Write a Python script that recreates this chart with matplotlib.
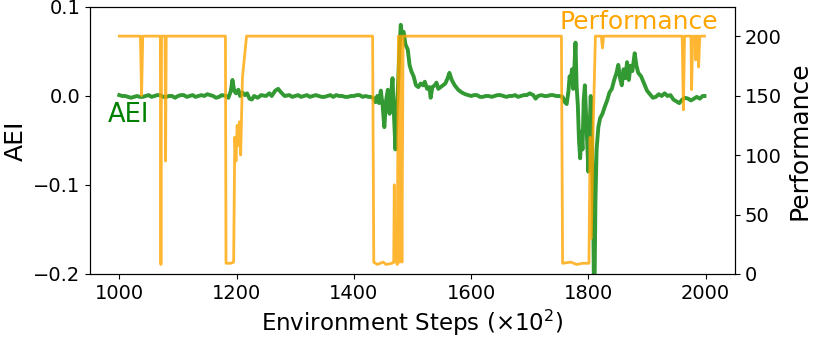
import matplotlib
matplotlib.use("Agg")
import matplotlib.pyplot as plt

# AEI series (green)
aei_steps = [1000, 1005, 1010, 1015, 1020, 1025, 1030, 1035, 1040, 1045, 1050, 1055, 1060, 1065,
             1070, 1075, 1080, 1085, 1090, 1095, 1100, 1105, 1110, 1115, 1120, 1125, 1130, 1135,
             1140, 1145, 1150, 1155, 1160, 1165, 1170, 1175, 1182, 1186, 1190, 1193, 1196, 1199,
             1203, 1206, 1210, 1214, 1218, 1222, 1226, 1230, 1236, 1242, 1250, 1256, 1260, 1266,
             1271, 1276, 1282, 1290, 1295, 1300, 1305, 1310, 1315, 1320, 1325, 1330, 1335, 1340,
             1345, 1350, 1355, 1360, 1365, 1370, 1375, 1380, 1385, 1390, 1395, 1400, 1405, 1410,
             1415, 1420, 1425, 1428, 1433, 1437, 1440, 1443, 1446, 1449, 1452, 1455, 1458, 1461,
             1464, 1466, 1469, 1471, 1473, 1475, 1477, 1480, 1482, 1485, 1488, 1492, 1495, 1498,
             1502, 1506, 1510, 1514, 1518, 1521, 1525, 1529, 1531, 1534, 1538, 1541, 1544, 1548,
             1552, 1556, 1560, 1563, 1567, 1572, 1578, 1584, 1590, 1595, 1600, 1605, 1610, 1615,
             1620, 1625, 1630, 1635, 1640, 1645, 1650, 1655, 1660, 1665, 1670, 1675, 1680, 1685,
             1690, 1695, 1700, 1706, 1710, 1714, 1720, 1725, 1730, 1735, 1740, 1745, 1750, 1756,
             1760, 1763, 1766, 1768, 1770, 1772, 1774, 1776, 1778, 1780, 1782, 1784, 1786, 1788,
             1790, 1792, 1794, 1796, 1798, 1800, 1802, 1804, 1806, 1808, 1810, 1812, 1814, 1817,
             1820, 1824, 1828, 1832, 1836, 1840, 1844, 1848, 1851, 1854, 1857, 1860, 1863, 1866,
             1869, 1872, 1875, 1879, 1882, 1885, 1890, 1895, 1900, 1905, 1910, 1915, 1920, 1925,
             1930, 1935, 1940, 1945, 1950, 1955, 1960, 1965, 1970, 1975, 1980, 1985, 1990, 1995,
             1998]
aei_values = [0.001, 0.000, 0.000, -0.001, -0.002, -0.001, 0.000, -0.001, -0.001, 0.000, 0.001,
              -0.001, 0.000, 0.001, 0.001, -0.001, -0.001, 0.000, 0.000, -0.002, 0.000, 0.001,
              0.001, -0.001, 0.000, 0.001, -0.001, 0.000, 0.001, 0.000, 0.002, 0.001, 0.000,
              -0.002, -0.001, 0.001, 0.000, -0.002, 0.005, 0.018, 0.006, 0.003, 0.007, 0.000,
              0.004, 0.001, 0.003, -0.003, -0.004, 0.000, -0.002, 0.001, 0.000, 0.003, 0.000,
              0.006, 0.008, 0.004, 0.000, 0.001, -0.001, 0.000, 0.001, -0.001, 0.000, 0.001,
              -0.001, 0.000, 0.001, 0.000, -0.001, -0.001, 0.000, 0.001, -0.001, 0.001, 0.000,
              0.000, -0.001, -0.001, 0.000, 0.000, 0.001, 0.001, -0.001, 0.000, -0.001, -0.001,
              -0.002, -0.007, 0.000, -0.008, 0.006, -0.010, -0.035, -0.005, 0.007, -0.020, 0.005,
              0.020, -0.030, -0.060, -0.020, 0.005, 0.040, 0.080, 0.070, 0.072, 0.058, 0.052,
              0.035, 0.028, 0.022, 0.012, 0.010, 0.014, 0.012, 0.016, 0.008, 0.010, -0.002,
              0.010, 0.012, 0.015, 0.008, 0.010, 0.012, 0.014, 0.020, 0.026, 0.018, 0.012, 0.007,
              0.004, 0.002, 0.001, 0.000, 0.001, 0.001, -0.001, -0.001, 0.000, 0.000, -0.001,
              0.000, 0.001, 0.001, 0.000, -0.001, 0.000, 0.000, 0.001, -0.001, 0.000, 0.001,
              0.001, 0.003, 0.001, -0.003, 0.000, 0.001, 0.000, 0.000, 0.001, 0.001, 0.000,
              0.000, -0.001, -0.007, -0.009, 0.005, 0.022, 0.015, 0.030, 0.008, 0.030, 0.060,
              0.010, -0.010, -0.050, -0.070, -0.040, -0.060, -0.005, 0.012, -0.020, -0.050,
              -0.085, -0.040, 0.000, -0.050, -0.120, -0.250, -0.120, -0.060, -0.035, -0.025,
              -0.020, -0.012, -0.005, 0.004, 0.008, 0.018, 0.026, 0.035, 0.020, 0.012, 0.030,
              0.020, 0.038, 0.018, 0.034, 0.028, 0.048, 0.034, 0.026, 0.022, 0.014, 0.006,
              0.002, -0.002, -0.001, 0.002, 0.000, 0.003, 0.000, 0.001, -0.004, -0.006, -0.008,
              -0.004, -0.002, -0.003, -0.005, -0.003, -0.001, -0.003, 0.000, 0.000]

# Performance series (orange)
perf_steps = [1000, 1036, 1038, 1040, 1070, 1071, 1072, 1078, 1079, 1080, 1181, 1182, 1190, 1195,
              1197, 1199, 1201, 1203, 1205, 1207, 1210, 1217, 1432, 1434, 1440, 1450, 1455, 1465,
              1468, 1469, 1470, 1472, 1474, 1476, 1478, 1480, 1482, 1484, 1754, 1756, 1770, 1780,
              1790, 1801, 1803, 1805, 1808, 1812, 1822, 1824, 1826, 1960, 1962, 1964, 1975, 1976,
              1978, 1982, 1983, 1984, 1987, 1988, 1990, 1998]
perf_values = [200, 200, 150, 200, 200, 8, 200, 200, 95, 200, 200, 9, 9, 10,
               115, 95, 125, 108, 128, 100, 165, 200, 200, 10, 8, 10, 8, 9,
               10, 75, 10, 45, 8, 200, 10, 200, 10, 200, 200, 9, 10, 8,
               9, 9, 115, 30, 120, 200, 200, 190, 200, 200, 138, 200, 200, 155,
               200, 200, 180, 200, 200, 174, 200, 200]

x_ticks = [1000, 1200, 1400, 1600, 1800, 2000]
aei_ticks = [-0.2, -0.1, 0.0, 0.1]
perf_ticks = [0, 50, 100, 150, 200]

fig = plt.figure(figsize=(8.15, 3.41), dpi=100)
ax1 = fig.add_subplot(111)
fig.subplots_adjust(left=0.1104, right=0.9018, top=0.9795, bottom=0.1965)
ax2 = ax1.twinx()

ax1.plot(aei_steps, aei_values, color="green", alpha=0.8, lw=2.8)
ax2.plot(perf_steps, perf_values, color="orange", alpha=0.8, lw=2)

ax1.set_xlim(950, 2050)
ax1.set_ylim(-0.2, 0.1)
ax2.set_ylim(0, 224.5)
ax1.set_xticks(x_ticks)
ax1.set_yticks(aei_ticks)
ax2.set_yticks(perf_ticks)
ax1.tick_params(labelsize=14)
ax2.tick_params(labelsize=14)

ax1.set_xlabel(r"Environment Steps ($\times 10^2$)", fontsize=16.5)
ax1.set_ylabel("AEI", fontsize=18)
ax2.set_ylabel("Performance", fontsize=18)

ax1.text(980, -0.021, "AEI", color="green", fontsize=18.5, va="center", ha="left")
ax1.text(1751, 0.083, "Performance", color="orange", fontsize=18, va="center", ha="left")

fig.savefig("out.png", dpi=100)
